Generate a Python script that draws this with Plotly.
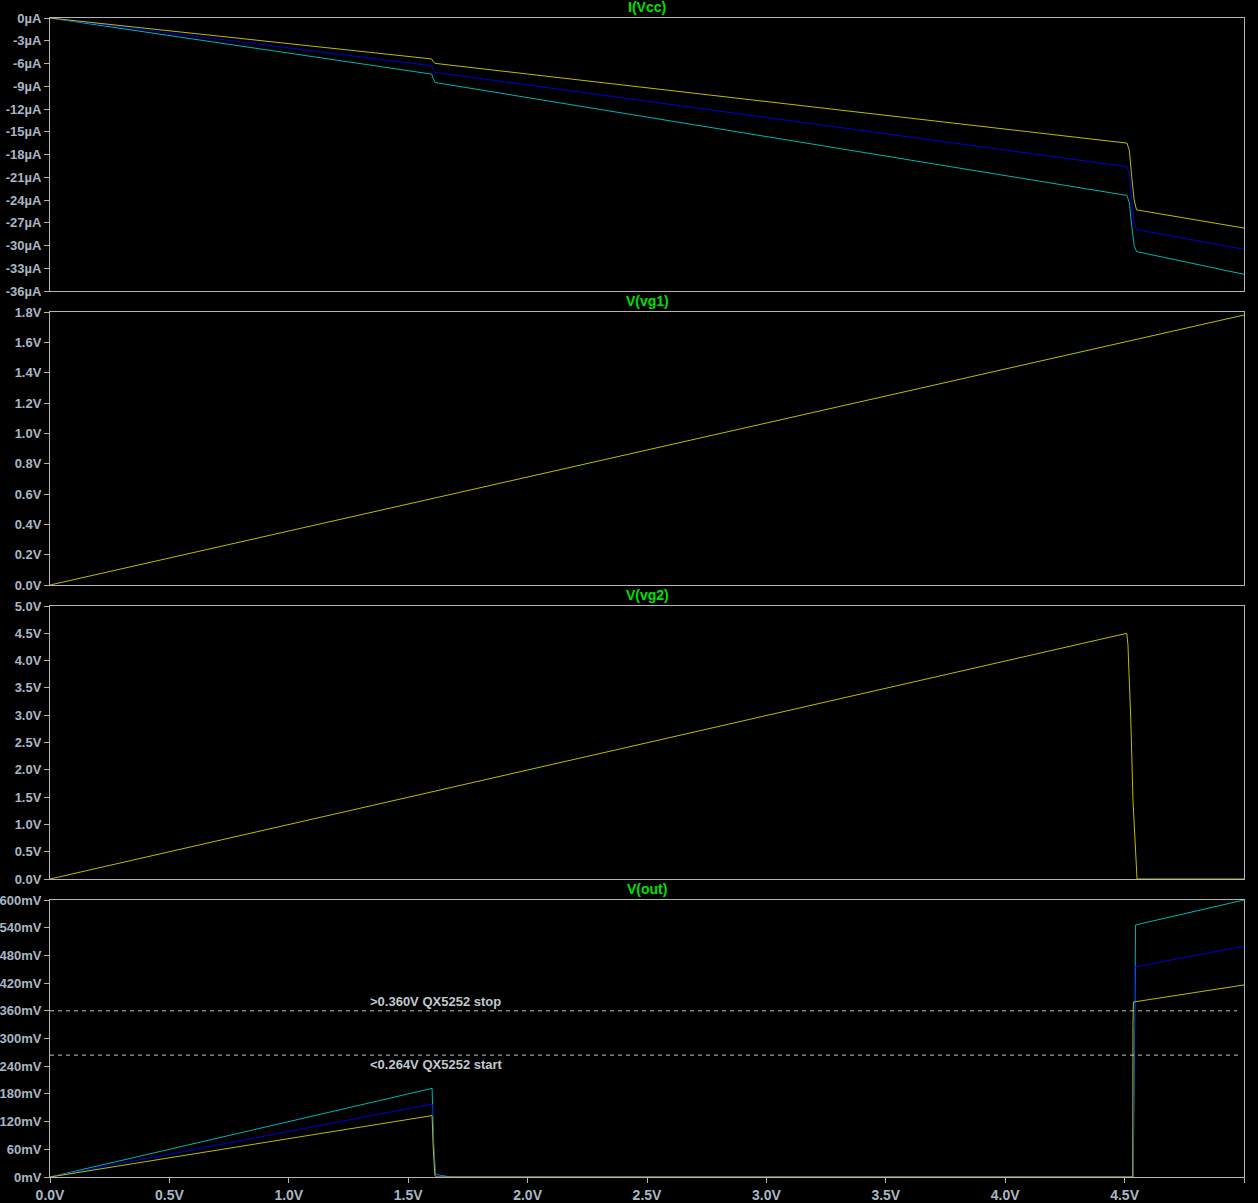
import plotly.graph_objects as go

# ---------------- data ----------------
# I(Vcc) in µA (three stepped runs)
icc_x = [0.0, 1.598, 1.605, 1.612, 4.51, 4.52, 4.53, 4.54, 4.55, 5.0]
icc_yellow = [0.0, -5.4, -5.75, -5.98, -16.5, -17.5, -21.0, -24.0, -25.3, -27.7]
icc_blue = [0.0, -6.3, -6.8, -7.16, -19.6, -20.6, -24.0, -27.0, -27.9, -30.5]
icc_cyan = [0.0, -7.4, -8.0, -8.5, -23.4, -24.4, -27.5, -30.0, -30.8, -33.8]

# V(vg1) in V
vg1_x = [0.0, 5.0]
vg1_y = [0.0, 1.78]

# V(vg2) in V
vg2_x = [0.0, 4.509, 4.514, 4.518, 4.526, 4.535, 4.543, 4.552, 5.0]
vg2_y = [0.0, 4.5, 4.29, 3.86, 2.91, 1.45, 0.71, 0.0, 0.0]

# V(out) in mV
out_yellow_x = [0.0, 1.600, 1.605, 1.612, 1.62, 4.534, 4.535, 4.537, 5.0]
out_yellow_y = [0.0, 133, 60, 3, 0, 0, 330, 379, 416]
out_blue_x = [0.0, 1.600, 1.605, 1.612, 1.63, 1.66, 4.535, 4.540, 4.542, 5.0]
out_blue_y = [0.0, 158, 70, 5, 2, 0, 0, 284, 455, 500]
out_cyan_x = [0.0, 1.600, 1.606, 1.614, 1.64, 1.68, 4.536, 4.542, 4.546, 5.0]
out_cyan_y = [0.0, 192, 80, 6, 3, 0, 0, 409, 546, 600]

# thresholds
thr_stop = 360
thr_start = 264
thr_stop_label = ">0.360V QX5252 stop"
thr_start_label = "<0.264V QX5252 start"

titles = ["I(Vcc)", "V(vg1)", "V(vg2)", "V(out)"]

x_tickvals = [0.0, 0.5, 1.0, 1.5, 2.0, 2.5, 3.0, 3.5, 4.0, 4.5, 5.0]
x_ticktext = ["0.0V", "0.5V", "1.0V", "1.5V", "2.0V", "2.5V", "3.0V", "3.5V", "4.0V", "4.5V", "5.0V"]

icc_tickvals = [0, -3, -6, -9, -12, -15, -18, -21, -24, -27, -30, -33, -36]
icc_ticktext = ["0µA", "-3µA", "-6µA", "-9µA", "-12µA", "-15µA", "-18µA", "-21µA", "-24µA", "-27µA", "-30µA", "-33µA", "-36µA"]
vg1_tickvals = [0.0, 0.2, 0.4, 0.6, 0.8, 1.0, 1.2, 1.4, 1.6, 1.8]
vg1_ticktext = ["0.0V", "0.2V", "0.4V", "0.6V", "0.8V", "1.0V", "1.2V", "1.4V", "1.6V", "1.8V"]
vg2_tickvals = [0.0, 0.5, 1.0, 1.5, 2.0, 2.5, 3.0, 3.5, 4.0, 4.5, 5.0]
vg2_ticktext = ["0.0V", "0.5V", "1.0V", "1.5V", "2.0V", "2.5V", "3.0V", "3.5V", "4.0V", "4.5V", "5.0V"]
out_tickvals = [0, 60, 120, 180, 240, 300, 360, 420, 480, 540, 600]
out_ticktext = ["0mV", "60mV", "120mV", "180mV", "240mV", "300mV", "360mV", "420mV", "480mV", "540mV", "600mV"]

# ---------------- styling ----------------
YEL = "#bcbc00"
BLU = "#0000d8"
CYN = "#00b4b4"
FRAME = "#b4b4b4"
TICKC = "#aab6c4"
TITLEC = "#00e000"
FONT = "Liberation Sans, Arial, sans-serif"
FS = 13

W, H = 1258, 1203
ML, MR, MT, MB = 50, 14, 18, 26
plot_h = H - MT - MB
panels_px = [(18, 291), (312, 585), (606, 879), (900, 1177)]
domains = [[(H - MB - b) / plot_h, (H - MB - t) / plot_h] for (t, b) in panels_px]

fig = go.Figure()

def line(x, y, color, ax, dash=None):
    fig.add_trace(go.Scatter(x=x, y=y, mode="lines", line=dict(color=color, width=1, dash=dash),
                             xaxis="x" + ax, yaxis="y" + ax, showlegend=False, hoverinfo="skip"))

# panel 1
line(icc_x, icc_cyan, CYN, "")
line(icc_x, icc_blue, BLU, "")
line(icc_x, icc_yellow, YEL, "")
# panel 2
line(vg1_x, vg1_y, YEL, "2")
# panel 3
line(vg2_x, vg2_y, YEL, "3")
# panel 4
line(out_cyan_x, out_cyan_y, CYN, "4")
line(out_blue_x, out_blue_y, BLU, "4")
line(out_yellow_x, out_yellow_y, YEL, "4")
line([0.0, 4.97], [thr_stop, thr_stop], "#c8c8c8", "4", dash="4px,4px")
line([0.0, 4.98], [thr_start, thr_start], "#c8c8c8", "4", dash="4px,4px")

yranges = [[-36, 0], [0, 1.8], [0, 5], [0, 600]]
yticks = [(icc_tickvals, icc_ticktext), (vg1_tickvals, vg1_ticktext),
          (vg2_tickvals, vg2_ticktext), (out_tickvals, out_ticktext)]

tickfont = dict(family=FONT, size=FS, color=TICKC, weight="bold")

layout = dict(
    width=W, height=H,
    margin=dict(l=ML, r=MR, t=MT, b=MB, autoexpand=False),
    paper_bgcolor="black", plot_bgcolor="black",
    font=dict(family=FONT, size=FS, color=TICKC),
    showlegend=False,
)

for i in range(4):
    sfx = "" if i == 0 else str(i + 1)
    xname = "xaxis" + sfx
    yname = "yaxis" + sfx
    bottom = (i == 3)
    layout[xname] = dict(
        range=[0, 5], domain=[0, 1], anchor="y" + sfx,
        showgrid=False, zeroline=False, automargin=False,
        showline=True, mirror=True, linecolor=FRAME, linewidth=1,
        tickvals=x_tickvals, ticktext=x_ticktext,
        showticklabels=bottom, ticks="outside" if bottom else "",
        ticklen=5, tickcolor=FRAME,
        tickfont=dict(family=FONT, size=14, color=TICKC, weight="bold"),
    )
    if i > 0:
        layout[xname]["matches"] = "x"
    layout[yname] = dict(
        range=yranges[i], domain=domains[i], anchor="x" + sfx,
        showgrid=False, zeroline=False, automargin=False,
        showline=True, mirror=True, linecolor=FRAME, linewidth=1,
        tickvals=yticks[i][0], ticktext=yticks[i][1],
        ticks="outside", ticklen=5, tickcolor=FRAME, ticklabelstandoff=0,
        tickfont=tickfont,
    )

annotations = []
for i in range(4):
    annotations.append(dict(
        text="<b>" + titles[i] + "</b>", x=0.5, xref="paper", y=domains[i][1], yref="paper",
        xanchor="center", yanchor="bottom", yshift=1, showarrow=False,
        font=dict(family=FONT, size=14, color=TITLEC),
    ))
annotations.append(dict(
    text="<b>" + thr_stop_label + "</b>", x=1.33, xref="x4", y=thr_stop, yref="y4",
    xanchor="left", yanchor="bottom", yshift=0, showarrow=False,
    font=dict(family=FONT, size=13, color="#c0c8d0"),
))
annotations.append(dict(
    text="<b>" + thr_start_label + "</b>", x=1.33, xref="x4", y=thr_start, yref="y4",
    xanchor="left", yanchor="top", yshift=0, showarrow=False,
    font=dict(family=FONT, size=13, color="#c0c8d0"),
))
layout["annotations"] = annotations

fig.update_layout(**layout)
fig.write_html("out.html", config={"displayModeBar": False},
               post_script="document.body.style.margin='0';document.body.style.background='black';document.body.style.overflow='hidden';")
